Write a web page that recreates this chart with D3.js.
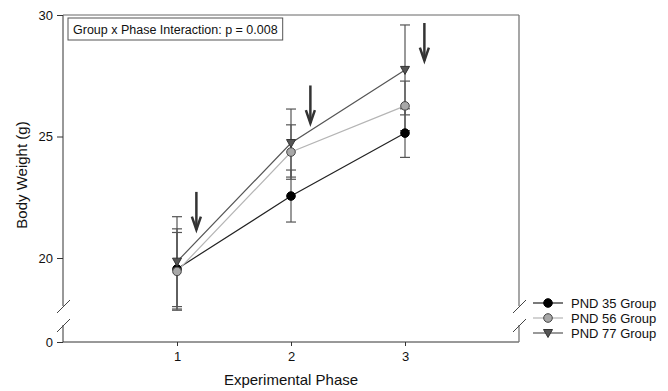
<!DOCTYPE html>
<html lang="en">
<head>
	<meta charset="UTF-8"/>
	<title>Body Weight by Experimental Phase</title>
	<script src="https://d3js.org/d3.v7.min.js"></script>
	<style>
		body { margin: 0; background: #fff; }
		svg { font-family: "Liberation Sans", Arial, sans-serif; }
	</style>
</head>
<body>
<script>
	// data
	var phases = [1, 2, 3];
	var groups = ["PND 35 Group", "PND 56 Group", "PND 77 Group"];
	var pnd35 = [19.55, 22.55, 25.14];
	var pnd35Err = [1.65, 1.07, 1.0];
	var pnd56 = [19.45, 24.36, 26.26];
	var pnd56Err = [1.6, 1.12, 1.02];
	var pnd77 = [19.85, 24.73, 27.74];
	var pnd77Err = [1.85, 1.4, 1.85];
	var yTicksUpper = [20, 25, 30];
	var yTicksLower = [0];
	var arrowX = [1.17, 2.17, 3.17];
	var arrowTop = [22.72, 27.1, 29.67];
	var arrowLen = 1.55;
	var note = "Group x Phase Interaction: p = 0.008";

	var w = 668, h = 391;
	var plotLeft = 63, plotRight = 519, plotTop = 15, plotBottom = 342;
	var breakUp = 306, breakLow = 325;

	var svg = d3.select("body").append("svg").attr("width", w).attr("height", h);

	var xScale = d3.scaleLinear().domain([0, 4]).range([plotLeft, plotRight]);
	var yScale = d3.scaleLinear().domain([20, 30]).range([258, plotTop]);
	var yLow = d3.scaleLinear().domain([0, 1]).range([plotBottom, breakLow]);

	var axisColor = "#333";

	// upper y axis
	var yAxis = svg.append("g")
		.attr("transform", "translate(" + plotLeft + ",0)")
		.call(d3.axisLeft(yScale).tickValues(yTicksUpper).tickFormat(d3.format("d")).tickSize(6).tickPadding(4));
	yAxis.select(".domain").remove();
	yAxis.append("line").attr("x1", 0).attr("x2", 0).attr("y1", plotTop).attr("y2", breakUp)
		.attr("stroke", axisColor);

	// lower y axis
	var yAxisLow = svg.append("g")
		.attr("transform", "translate(" + plotLeft + ",0)")
		.call(d3.axisLeft(yLow).tickValues(yTicksLower).tickFormat(d3.format("d")).tickSize(6).tickPadding(4));
	yAxisLow.select(".domain").remove();
	yAxisLow.append("line").attr("x1", 0).attr("x2", 0).attr("y1", breakLow).attr("y2", plotBottom)
		.attr("stroke", axisColor);

	svg.selectAll(".tick text").attr("font-size", 13).attr("fill", "#111")
		.attr("font-family", "Liberation Sans, Arial, sans-serif");
	svg.selectAll(".tick line").attr("stroke", axisColor);

	// x axis
	var xAxis = svg.append("g")
		.attr("transform", "translate(0," + plotBottom + ")")
		.call(d3.axisBottom(xScale).tickValues(phases).tickFormat(d3.format("d")).tickSize(4).tickPadding(6));
	xAxis.select(".domain").remove();
	xAxis.append("line").attr("x1", plotLeft).attr("x2", plotRight).attr("y1", 0).attr("y2", 0)
		.attr("stroke", axisColor);
	xAxis.selectAll(".tick text").attr("font-size", 13).attr("fill", "#111")
		.attr("font-family", "Liberation Sans, Arial, sans-serif");
	xAxis.selectAll(".tick line").attr("stroke", axisColor);

	// top and right frame
	svg.append("line").attr("x1", plotLeft).attr("x2", plotRight).attr("y1", plotTop).attr("y2", plotTop)
		.attr("stroke", "#666");
	svg.append("line").attr("x1", plotRight).attr("x2", plotRight).attr("y1", plotTop).attr("y2", breakUp)
		.attr("stroke", "#777").attr("stroke-width", 1.3);
	svg.append("line").attr("x1", plotRight).attr("x2", plotRight).attr("y1", breakLow).attr("y2", plotBottom)
		.attr("stroke", "#777").attr("stroke-width", 1.3);

	// axis break slashes
	[plotLeft, plotRight].forEach(function(x){
		[breakUp, breakLow].forEach(function(y){
			svg.append("line")
				.attr("x1", x - 6).attr("y1", y + 7)
				.attr("x2", x + 7).attr("y2", y - 6)
				.attr("stroke", "#444");
		});
	});

	// axis titles
	svg.append("text")
		.attr("transform", "translate(27,175) rotate(-90)")
		.attr("text-anchor", "middle")
		.attr("font-size", 15)
		.attr("fill", "#111")
		.text("Body Weight (g)");

	svg.append("text")
		.attr("x", xScale(2))
		.attr("y", 385)
		.attr("text-anchor", "middle")
		.attr("font-size", 15)
		.attr("fill", "#111")
		.text("Experimental Phase");

	// annotation box
	var noteG = svg.append("g");
	var noteText = noteG.append("text")
		.attr("x", 73)
		.attr("y", 34)
		.attr("font-size", 12.5)
		.attr("fill", "#111")
		.text(note);
	var bb = noteText.node().getBBox();
	noteG.insert("rect", "text")
		.attr("x", 68).attr("y", 18)
		.attr("width", bb.width + 10).attr("height", 22)
		.attr("fill", "#fff").attr("stroke", "#555");

	var series = [
		{name: groups[0], values: pnd35, err: pnd35Err, line: "#222", fill: "#000", stroke: "#000", shape: "circle"},
		{name: groups[1], values: pnd56, err: pnd56Err, line: "#b5b5b5", fill: "#a8a8a8", stroke: "#444", shape: "circle"},
		{name: groups[2], values: pnd77, err: pnd77Err, line: "#555", fill: "#555", stroke: "#333", shape: "triangle"}
	];

	var line = d3.line()
		.x(function(d, i){ return xScale(phases[i]); })
		.y(function(d){ return yScale(d); });

	series.forEach(function(s){
		svg.append("path")
			.datum(s.values)
			.attr("d", line)
			.attr("fill", "none")
			.attr("stroke", s.line)
			.attr("stroke-width", 1.2);
	});

	// error bars
	series.forEach(function(s){
		var g = svg.append("g").attr("stroke", "#555").attr("stroke-width", 1.2);
		s.values.forEach(function(v, i){
			var x = xScale(phases[i]);
			var yHi = yScale(v + s.err[i]);
			var yLo = yScale(v - s.err[i]);
			g.append("line").attr("x1", x).attr("x2", x).attr("y1", yHi).attr("y2", yLo);
			g.append("line").attr("x1", x - 5).attr("x2", x + 5).attr("y1", yHi).attr("y2", yHi);
			g.append("line").attr("x1", x - 5).attr("x2", x + 5).attr("y1", yLo).attr("y2", yLo);
		});
	});

	var triangle = "M-4.5,-3.5L4.5,-3.5L0,4.5Z";

	function drawMarker(g, s, x, y){
		if (s.shape === "circle") {
			g.append("circle").attr("cx", x).attr("cy", y).attr("r", 4.3)
				.attr("fill", s.fill).attr("stroke", s.stroke).attr("stroke-width", 1);
		} else {
			g.append("path").attr("d", triangle)
				.attr("transform", "translate(" + x + "," + y + ")")
				.attr("fill", s.fill).attr("stroke", s.stroke).attr("stroke-width", 1);
		}
	}

	series.forEach(function(s){
		var g = svg.append("g");
		s.values.forEach(function(v, i){
			drawMarker(g, s, xScale(phases[i]), yScale(v));
		});
	});

	// arrows
	arrowX.forEach(function(a, i){
		var x = xScale(a);
		var y1 = yScale(arrowTop[i]);
		var y2 = yScale(arrowTop[i] - arrowLen);
		var g = svg.append("g").attr("stroke", "#333").attr("stroke-width", 2.5).attr("fill", "none");
		g.append("line").attr("x1", x).attr("x2", x).attr("y1", y1).attr("y2", y2);
		g.append("path").attr("d", "M" + (x - 4.5) + "," + (y2 - 13) + "L" + x + "," + y2 + "L" + (x + 4.5) + "," + (y2 - 13));
	});

	// legend
	var legend = svg.append("g");
	series.forEach(function(s, i){
		var y = 303 + i * 15;
		legend.append("line").attr("x1", 533).attr("x2", 563).attr("y1", y).attr("y2", y)
			.attr("stroke", s.line).attr("stroke-width", 1.2);
		drawMarker(legend, s, 548, y);
		legend.append("text").attr("x", 571).attr("y", y + 4.5)
			.attr("font-size", 13).attr("fill", "#111").text(s.name);
	});
</script>
</body>
</html>
